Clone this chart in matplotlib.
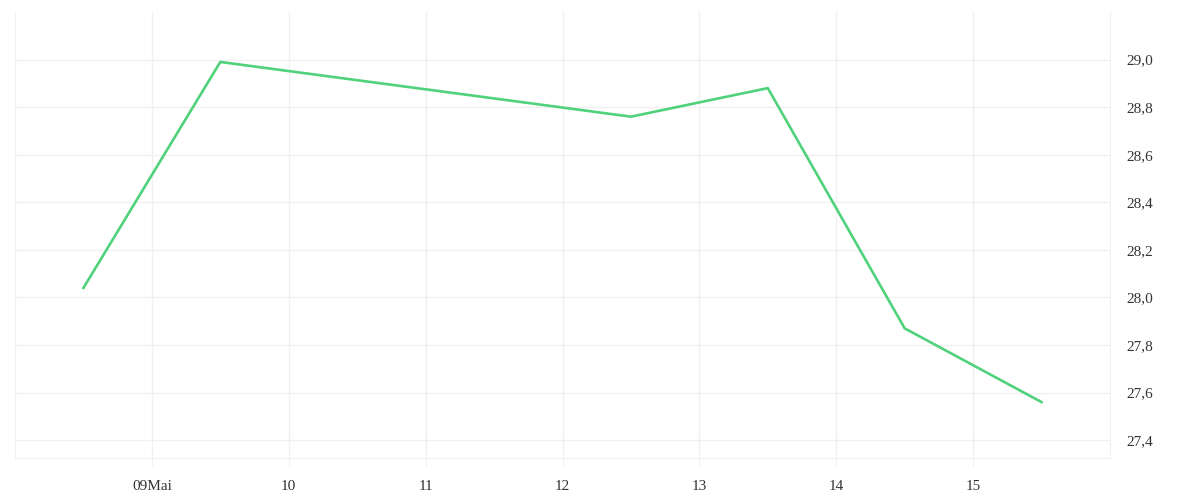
import matplotlib.pyplot as plt
import matplotlib.ticker as mticker
from datetime import datetime

zeitpunkte = [datetime(2024, 5, 8, 12), datetime(2024, 5, 9, 12), datetime(2024, 5, 12, 12),
              datetime(2024, 5, 13, 12), datetime(2024, 5, 14, 12), datetime(2024, 5, 15, 12)]
werte = [28.04, 28.99, 28.76, 28.88, 27.87, 27.56]

tick_tage = [datetime(2024, 5, d) for d in range(9, 16)]
tick_labels = ['09Mai', '10', '11', '12', '13', '14', '15']
y_ticks = [27.4, 27.6, 27.8, 28.0, 28.2, 28.4, 28.6, 28.8, 29.0]

plt.rcParams['font.family'] = ['Liberation Serif', 'DejaVu Serif']

fig = plt.figure(figsize=(12, 5), dpi=100)
ax = fig.add_axes([0.0125, 0.084, 0.9125, 0.892])

ax.plot(zeitpunkte, werte, color='#50d27c', linewidth=1.9)

ax.set_xlim(datetime(2024, 5, 8), datetime(2024, 5, 16))
ax.set_ylim(27.325, 29.2)

ax.set_xticks(tick_tage)
ax.set_xticklabels(tick_labels)
ax.set_yticks(y_ticks)
ax.yaxis.set_major_formatter(mticker.FuncFormatter(lambda v, p: f'{v:.1f}'.replace('.', ',')))
ax.yaxis.tick_right()

ax.grid(True, color='#f0f0f0', linewidth=1)
ax.spines['top'].set_visible(False)
for s in ['left', 'right', 'bottom']:
    ax.spines[s].set_color('#f0f0f0')

ax.tick_params(axis='x', length=6, color='#f0f0f0', labelsize=11, labelcolor='#333333', pad=10)
ax.tick_params(axis='y', length=0, labelsize=11, labelcolor='#333333', pad=12)

fig.savefig('out.png', dpi=100)
